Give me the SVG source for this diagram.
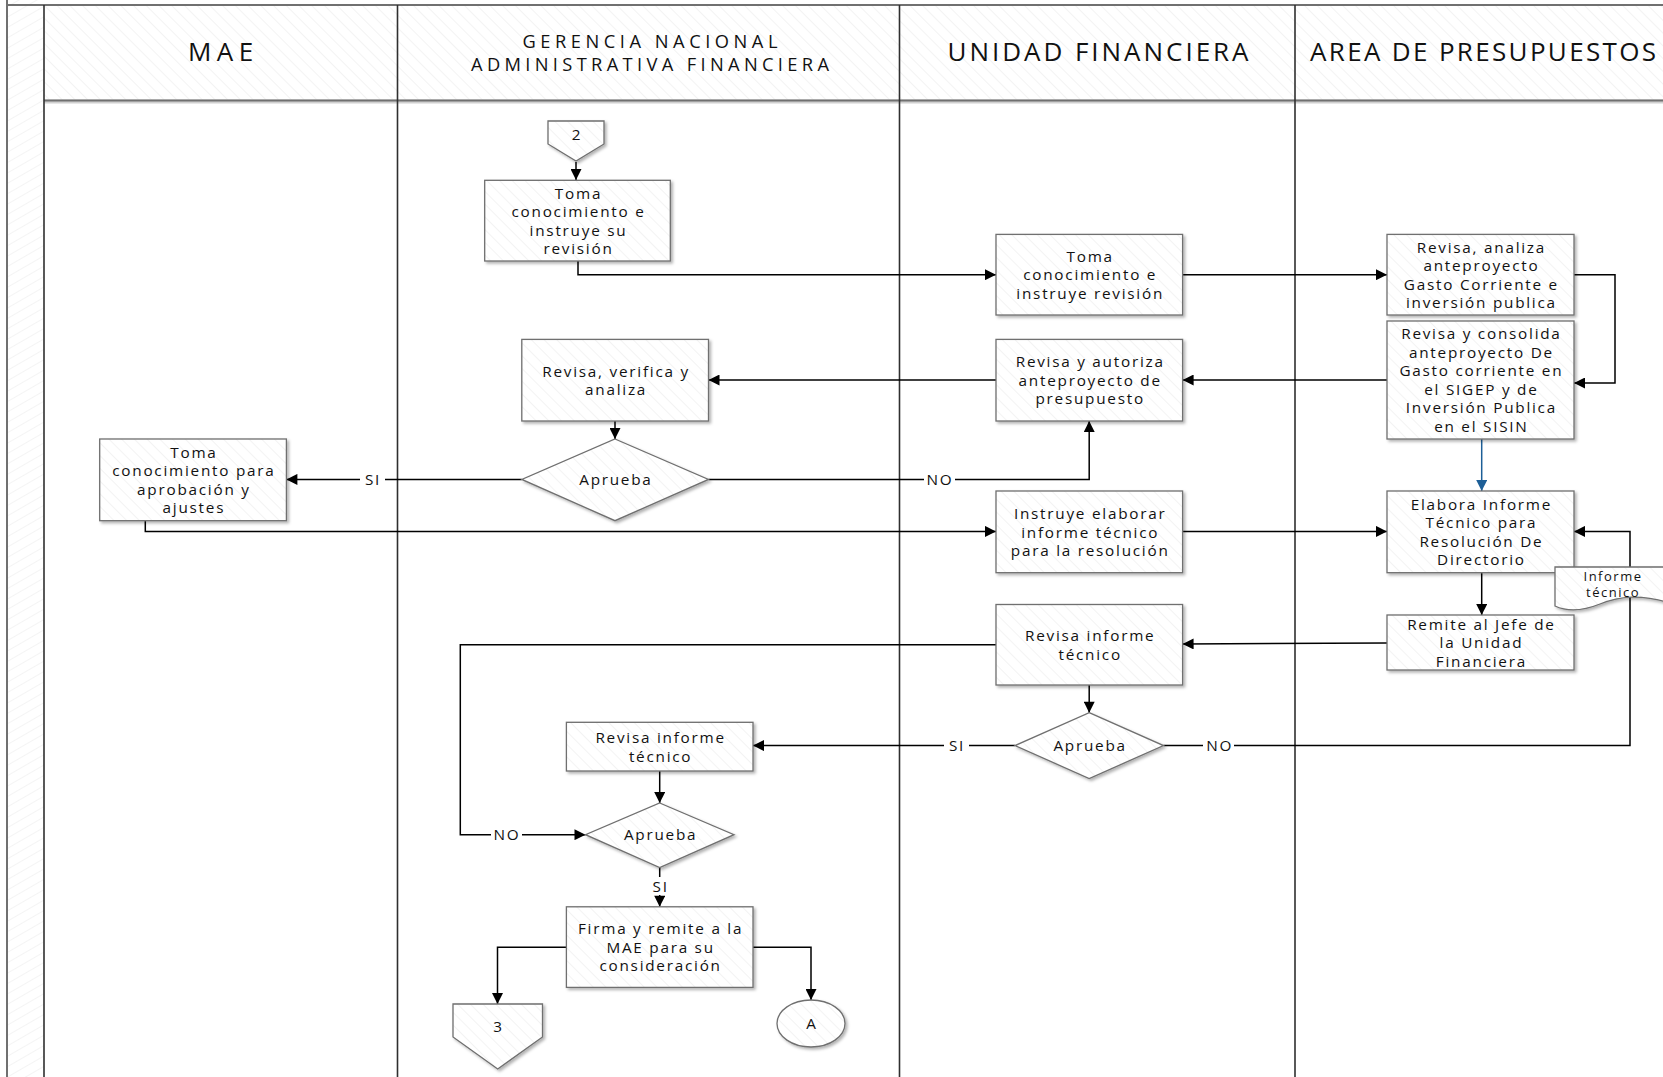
<svg xmlns="http://www.w3.org/2000/svg" width="1663" height="1077" viewBox="0 0 1663 1077">
<defs>
<pattern id="hatch" patternUnits="userSpaceOnUse" width="9" height="9" patternTransform="rotate(-45)">
<rect width="9" height="9" fill="#ffffff"/>
<line x1="0" y1="0" x2="0" y2="9" stroke="#ececec" stroke-width="1.2"/>
</pattern>
<pattern id="hatch2" patternUnits="userSpaceOnUse" width="9" height="9" patternTransform="rotate(60)">
<rect width="9" height="9" fill="#ffffff"/>
<line x1="0" y1="0" x2="0" y2="9" stroke="#eeeeee" stroke-width="1.2"/>
</pattern>
<filter id="sh" x="-10%" y="-10%" width="130%" height="130%">
<feDropShadow dx="2" dy="2" stdDeviation="1.5" flood-color="#000" flood-opacity="0.3"/>
</filter>
<marker id="arr" viewBox="0 0 10 10" refX="10" refY="5" markerWidth="12" markerHeight="11" markerUnits="userSpaceOnUse" orient="auto">
<path d="M0,0 L10,5 L0,10 z" fill="#000"/>
</marker>
<marker id="arrb" viewBox="0 0 10 10" refX="10" refY="5" markerWidth="12" markerHeight="11" markerUnits="userSpaceOnUse" orient="auto">
<path d="M0,0 L10,5 L0,10 z" fill="#1d5f97"/>
</marker>
<style>
.hdr{font-family:"Open Sans","Noto Sans",sans-serif;font-size:26px;fill:#111;text-anchor:middle}
.hdr2{font-family:"Open Sans","Noto Sans",sans-serif;font-size:18.3px;fill:#111;text-anchor:middle}
.t{font-family:"Open Sans","Noto Sans",sans-serif;font-size:15.3px;letter-spacing:1.75px;fill:#111;text-anchor:middle}
.ts{font-family:"Open Sans","Noto Sans",sans-serif;font-size:13px;letter-spacing:1.5px;fill:#111;text-anchor:middle}
.box{fill:url(#hatch);stroke:#6f6f6f;stroke-width:1.3;filter:url(#sh)}
.lane{stroke:#2f2f2f;stroke-width:1.6;fill:none}
.hl{stroke:#707070;stroke-width:2;fill:none}
.c{stroke:#000;stroke-width:1.5;fill:none;marker-end:url(#arr)}
.lbl{fill:#fff}
</style>
</defs>
<rect width="1663" height="1077" fill="#ffffff"/>
<g id="pool">
<rect x="7" y="0" width="37" height="1077" fill="url(#hatch2)"/>
<rect x="44" y="5" width="1619" height="96" fill="url(#hatch)"/>
<line class="hl" x1="7" y1="0" x2="7" y2="1077" stroke="#888"/>
<line class="hl" x1="7" y1="5" x2="1663" y2="5"/>
<line x1="44" y1="101.5" x2="1663" y2="101.5" stroke="#d0d0d0" stroke-width="4"/>
<line class="hl" x1="44" y1="100.5" x2="1663" y2="100.5"/>
<line class="lane" x1="44" y1="5" x2="44" y2="1077"/>
<line class="lane" x1="397.5" y1="5" x2="397.5" y2="1077"/>
<line class="lane" x1="899.5" y1="5" x2="899.5" y2="1077"/>
<line class="lane" x1="1295" y1="5" x2="1295" y2="1077"/>
<text class="hdr" x="220.6" y="60.5" textLength="65" lengthAdjust="spacing">MAE</text>
<text class="hdr2" x="650" y="48" textLength="255" lengthAdjust="spacing">GERENCIA NACIONAL</text>
<text class="hdr2" x="650" y="70.5" textLength="358" lengthAdjust="spacing">ADMINISTRATIVA FINANCIERA</text>
<text class="hdr" x="1098" y="60.5" textLength="301" lengthAdjust="spacing">UNIDAD FINANCIERA</text>
<text class="hdr" x="1483" y="60.5" textLength="346" lengthAdjust="spacing">AREA DE PRESUPUESTOS</text>
</g>
<g id="connectors">
<line class="c" x1="576" y1="162" x2="576" y2="180"/>
<polyline class="c" points="578,261 578,274.7 996,274.7"/>
<line class="c" x1="1182.6" y1="274.7" x2="1387" y2="274.7"/>
<polyline class="c" points="1574,274.7 1615,274.7 1615,383 1574,383"/>
<line class="c" x1="1387" y1="380" x2="1182.6" y2="380"/>
<line class="c" x1="996" y1="380" x2="708.5" y2="380"/>
<line class="c" x1="615" y1="421" x2="615" y2="439"/>
<line class="c" x1="521.8" y1="479.4" x2="286.4" y2="479.4"/>
<polyline class="c" points="708.5,479.4 1089.2,479.4 1089.2,421"/>
<polyline class="c" points="145.3,520.7 145.3,531.4 996,531.4"/>
<line class="c" x1="1182.6" y1="531.4" x2="1387" y2="531.4"/>
<line x1="1481.7" y1="439" x2="1481.7" y2="491" stroke="#1d5f97" stroke-width="1.5" marker-end="url(#arrb)"/>
<line class="c" x1="1481.7" y1="572.7" x2="1481.7" y2="615"/>
<line class="c" x1="1387" y1="643" x2="1182.6" y2="644"/>
<polyline class="c" points="996,644.8 460.3,644.8 460.3,834.7 585.5,834.7"/>
<line class="c" x1="1089.2" y1="685" x2="1089.2" y2="712.7"/>
<line class="c" x1="1015" y1="745.6" x2="753" y2="745.6"/>
<polyline class="c" points="1163.5,745.6 1630,745.6 1630,531.4 1574,531.4"/>
<line class="c" x1="659.7" y1="771" x2="659.7" y2="803"/>
<line class="c" x1="659.7" y1="867.6" x2="659.7" y2="906.8"/>
<polyline class="c" points="566.4,947.3 497.5,947.3 497.5,1004"/>
<polyline class="c" points="753,947.3 811,947.3 811,1000"/>
<rect class="lbl" x="360" y="470" width="25" height="19"/>
<text class="t" x="373" y="485">SI</text>
<rect class="lbl" x="924" y="470" width="31" height="19"/>
<text class="t" x="940" y="485">NO</text>
<rect class="lbl" x="491" y="825" width="31" height="19"/>
<text class="t" x="507" y="840">NO</text>
<rect class="lbl" x="944" y="736" width="25" height="19"/>
<text class="t" x="957" y="751">SI</text>
<rect class="lbl" x="1203" y="736" width="31" height="19"/>
<text class="t" x="1219.6" y="751">NO</text>
<rect class="lbl" x="648" y="877" width="25" height="18"/>
<text class="t" x="660.7" y="892">SI</text>
</g>
<g id="off2">
<polygon class="box" points="548,121 604,121 604,144 576,161 548,144"/>
<text class="t" x="577" y="140">2</text>
</g>
<g id="n1">
<rect class="box" x="484.7" y="180.3" width="185.6" height="80.7"/>
<text class="t"><tspan x="578.5" y="198.5">Toma</tspan><tspan x="578.5" y="217">conocimiento e</tspan><tspan x="578.5" y="235.5">instruye su</tspan><tspan x="578.5" y="254">revisión</tspan></text>
</g>
<g id="n2">
<rect class="box" x="996" y="234.4" width="186.6" height="80.6"/>
<text class="t"><tspan x="1090.2" y="261.8">Toma</tspan><tspan x="1090.2" y="280.3">conocimiento e</tspan><tspan x="1090.2" y="298.8">instruye revisión</tspan></text>
</g>
<g id="n3">
<rect class="box" x="1387" y="234.4" width="187" height="80.6"/>
<text class="t"><tspan x="1481.4" y="252.6">Revisa, analiza</tspan><tspan x="1481.4" y="271.1">anteproyecto</tspan><tspan x="1481.4" y="289.6">Gasto Corriente e</tspan><tspan x="1481.4" y="308.1">inversión publica</tspan></text>
</g>
<g id="n4">
<rect class="box" x="1387" y="321" width="187" height="118"/>
<text class="t"><tspan x="1481.4" y="339.3">Revisa y consolida</tspan><tspan x="1481.4" y="357.8">anteproyecto De</tspan><tspan x="1481.4" y="376.3">Gasto corriente en</tspan><tspan x="1481.4" y="394.8">el SIGEP y de</tspan><tspan x="1481.4" y="413.3">Inversión Publica</tspan><tspan x="1481.4" y="431.8">en el SISIN</tspan></text>
</g>
<g id="n5">
<rect class="box" x="996" y="339.4" width="186.6" height="81.6"/>
<text class="t"><tspan x="1090.2" y="367.3">Revisa y autoriza</tspan><tspan x="1090.2" y="385.8">anteproyecto de</tspan><tspan x="1090.2" y="404.3">presupuesto</tspan></text>
</g>
<g id="n6">
<rect class="box" x="521.8" y="339.4" width="186.7" height="81.6"/>
<text class="t"><tspan x="616.1" y="376.6">Revisa, verifica y</tspan><tspan x="616.1" y="395.1">analiza</tspan></text>
</g>
<g id="d1">
<polygon class="box" points="615,439 708.5,479.4 615,520.7 521.8,479.4"/>
<text class="t" x="615.9" y="485">Aprueba</text>
</g>
<g id="n7">
<rect class="box" x="99.7" y="439" width="186.7" height="81.7"/>
<text class="t"><tspan x="193.9" y="457.7">Toma</tspan><tspan x="193.9" y="476.2">conocimiento para</tspan><tspan x="193.9" y="494.7">aprobación y</tspan><tspan x="193.9" y="513.2">ajustes</tspan></text>
</g>
<g id="n8">
<rect class="box" x="996" y="491" width="186.6" height="81.7"/>
<text class="t"><tspan x="1090.2" y="519">Instruye elaborar</tspan><tspan x="1090.2" y="537.5">informe técnico</tspan><tspan x="1090.2" y="556">para la resolución</tspan></text>
</g>
<g id="n9">
<rect class="box" x="1387" y="491" width="187" height="81.7"/>
<text class="t"><tspan x="1481.4" y="509.8">Elabora Informe</tspan><tspan x="1481.4" y="528.3">Técnico para</tspan><tspan x="1481.4" y="546.8">Resolución De</tspan><tspan x="1481.4" y="565.3">Directorio</tspan></text>
</g>
<g id="doc">
<path class="box" d="M1555,567 L1670,567 L1670,603 C1640,594 1620,596 1600,604 C1585,610 1568,612 1555,606 Z"/>
<text class="ts"><tspan x="1613" y="581">Informe</tspan><tspan x="1613" y="597">técnico</tspan></text>
</g>
<g id="n10">
<rect class="box" x="1387" y="615" width="187" height="55"/>
<text class="t"><tspan x="1481.4" y="629.6">Remite al Jefe de</tspan><tspan x="1481.4" y="648.1">la Unidad</tspan><tspan x="1481.4" y="666.6">Financiera</tspan></text>
</g>
<g id="n11">
<rect class="box" x="996" y="604.5" width="186.6" height="80.5"/>
<text class="t"><tspan x="1090.2" y="641.1">Revisa informe</tspan><tspan x="1090.2" y="659.6">técnico</tspan></text>
</g>
<g id="d2">
<polygon class="box" points="1089.2,712.7 1163.5,745.6 1089.2,778.5 1015,745.6"/>
<text class="t" x="1090.1" y="751.2">Aprueba</text>
</g>
<g id="n12">
<rect class="box" x="566.4" y="722.3" width="186.6" height="48.7"/>
<text class="t"><tspan x="660.6" y="743">Revisa informe</tspan><tspan x="660.6" y="761.5">técnico</tspan></text>
</g>
<g id="d3">
<polygon class="box" points="659.7,803 734,834.7 659.7,867.6 585.5,834.7"/>
<text class="t" x="660.6" y="840.3">Aprueba</text>
</g>
<g id="n13">
<rect class="box" x="566.4" y="906.8" width="186.6" height="80.6"/>
<text class="t"><tspan x="660.6" y="934.2">Firma y remite a la</tspan><tspan x="660.6" y="952.7">MAE para su</tspan><tspan x="660.6" y="971.2">consideración</tspan></text>
</g>
<g id="off3">
<polygon class="box" points="453,1004 542.5,1004 542.5,1037 497.7,1069 453,1037"/>
<text class="t" x="498.6" y="1032">3</text>
</g>
<g id="connA">
<ellipse class="box" cx="811" cy="1023.5" rx="34" ry="23.5"/>
<text class="t" x="811.9" y="1029">A</text>
</g>
</svg>
